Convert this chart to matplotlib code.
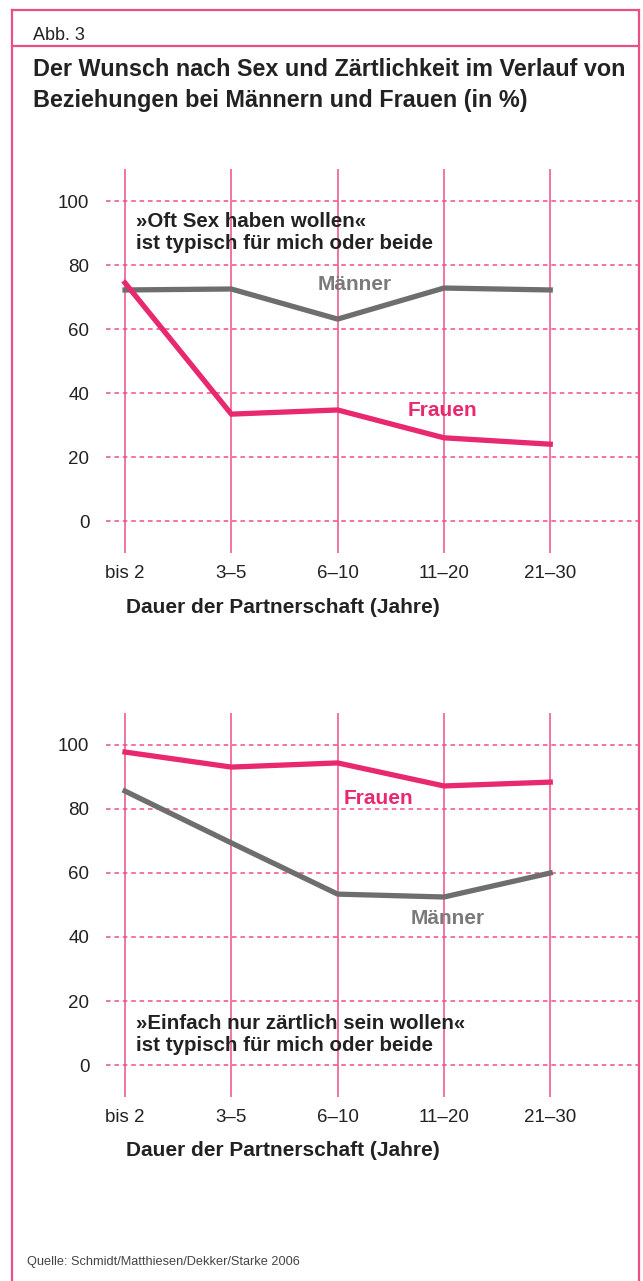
import matplotlib
matplotlib.use("Agg")
import matplotlib.pyplot as plt
from matplotlib.lines import Line2D

plt.rcParams['font.family'] = ['Liberation Sans Narrow', 'Liberation Sans', 'DejaVu Sans']

# data
categories = ["bis 2", "3–5", "6–10", "11–20", "21–30"]
yticks = [0, 20, 40, 60, 80, 100]

sex_maenner = [72.2, 72.5, 63.1, 72.8, 72.2]
sex_frauen = [74.4, 33.4, 34.7, 26.0, 24.0]

zart_frauen = [97.8, 93.1, 94.4, 87.2, 88.4]
zart_maenner = [85.6, 69.4, 53.4, 52.5, 60.0]

PINK = "#e8286f"
GRID = "#ec4f86"
GRAY = "#6e6e6e"
TXT = "#222222"

W, H = 643, 1281
fig = plt.figure(figsize=(W / 100, H / 100), dpi=100)


def px(x, y):
    return x / W, 1 - y / H


def make_axes(top):
    left, right, bottom = 106, 639, top + 384
    ax = fig.add_axes([left / W, 1 - bottom / H, (right - left) / W, 384 / H])
    ax.set_xlim(-0.179, 4.835)
    ax.set_ylim(-10, 110)
    ax.set_xticks(range(len(categories)))
    ax.set_xticklabels(categories)
    ax.set_yticks(yticks)
    ax.tick_params(length=0, labelsize=13.5, colors=TXT)
    ax.tick_params(axis='x', pad=9)
    ax.tick_params(axis='y', pad=12)
    for s in ax.spines.values():
        s.set_visible(False)
    for x in range(len(categories)):
        ax.axvline(x, color=GRID, lw=1.1, zorder=1)
    for y in yticks:
        ax.axhline(y, color=GRID, lw=1.1, ls=(0, (3, 2.5)), zorder=1)
    return ax


lab_kw = dict(fontsize=15, fontweight='bold', ha='center', va='center', zorder=5)
note_kw = dict(color=TXT, fontsize=14.8, fontweight='bold', ha='left', va='center',
               linespacing=1.2, zorder=5)

# top chart
ax1 = make_axes(169)
xs = range(len(categories))
ax1.plot(xs, sex_maenner, color=GRAY, lw=3.8, zorder=3, solid_joinstyle='miter')
ax1.plot(xs, sex_frauen, color=PINK, lw=3.8, zorder=4, solid_joinstyle='miter')
ax1.text(2.16, 74, "Männer", color="#7a7a7a", **lab_kw)
ax1.text(2.99, 34.4, "Frauen", color=PINK, **lab_kw)
ax1.text(0.10, 90.3, "»Oft Sex haben wollen«\nist typisch für mich oder beide", **note_kw)

# bottom chart
ax2 = make_axes(713)
ax2.plot(xs, zart_maenner, color=GRAY, lw=3.8, zorder=3, solid_joinstyle='miter')
ax2.plot(xs, zart_frauen, color=PINK, lw=3.8, zorder=4, solid_joinstyle='miter')
ax2.text(2.38, 83.4, "Frauen", color=PINK, **lab_kw)
ax2.text(3.04, 45.9, "Männer", color="#7a7a7a", **lab_kw)
ax2.text(0.10, 9.4, "»Einfach nur zärtlich sein wollen«\nist typisch für mich oder beide", **note_kw)

# x axis titles
for y in (607, 1151):
    fig.text(*px(126, y), "Dauer der Partnerschaft (Jahre)", color=TXT, fontsize=15,
             fontweight='bold', ha='left', va='center')

# frame
frame_kw = dict(color=GRID, lw=1.6, transform=fig.transFigure)
fig.add_artist(Line2D([12 / W, 639 / W], [1 - 10 / H, 1 - 10 / H], **frame_kw))
fig.add_artist(Line2D([12 / W, 639 / W], [1 - 46 / H, 1 - 46 / H], **frame_kw))
fig.add_artist(Line2D([12 / W, 12 / W], [1 - 10 / H, 0], **frame_kw))
fig.add_artist(Line2D([639 / W, 639 / W], [1 - 10 / H, 0], **frame_kw))

fig.text(*px(33, 35), "Abb. 3", color=TXT, fontsize=13, ha='left', va='center')
fig.text(*px(33, 70), "Der Wunsch nach Sex und Zärtlichkeit im Verlauf von", color=TXT,
         fontsize=16.8, fontweight='bold', ha='left', va='center')
fig.text(*px(33, 100), "Beziehungen bei Männern und Frauen (in %)", color=TXT,
         fontsize=16.8, fontweight='bold', ha='left', va='center')
fig.text(*px(27, 1262), "Quelle: Schmidt/Matthiesen/Dekker/Starke 2006", color="#444444",
         fontsize=9.2, ha='left', va='center')

fig.savefig("out.png", dpi=100)
